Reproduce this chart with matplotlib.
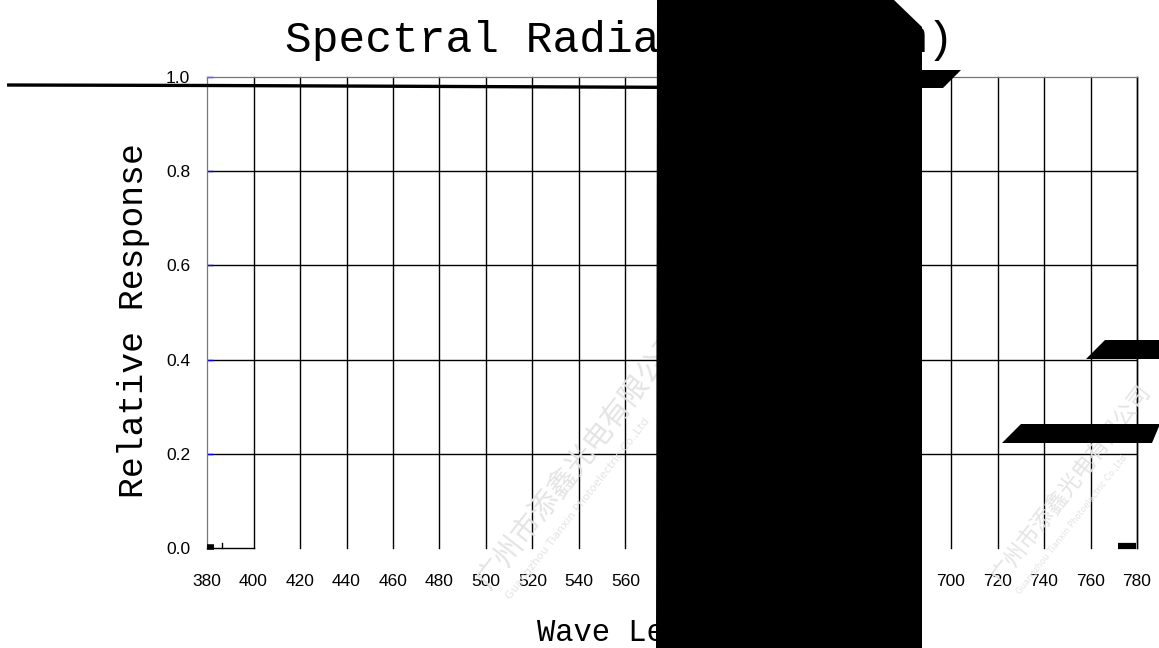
import matplotlib
matplotlib.use("Agg")
import matplotlib.pyplot as plt
from matplotlib.patches import Polygon

W, H = 1159, 648

# ---------------- data ----------------
wavelengths = list(range(380, 781, 20))
x_tick_labels = [str(w) for w in wavelengths]
y_ticks = [0.0, 0.2, 0.4, 0.6, 0.8, 1.0]
y_tick_labels = ["0.0", "0.2", "0.4", "0.6", "0.8", "1.0"]

# visible part of the response curve near the top
curve_wl = [294, 380, 480, 580, 610]
curve_val = [0.983, 0.982, 0.980, 0.978, 0.977]

# visible stubs of the curve near zero
start_wl = [380, 383]
start_val = [0.003, 0.003]
end_wl = [772, 779.5]
end_val = [0.004, 0.004]

title_text = "Spectral Radiation (λ/nm)"
xlabel_text = "Wave Length (nm)"
ylabel_text = "Relative Response"
watermark_cn = "广州市添鑫光电有限公司"
watermark_en = "Guangzhou Tianxin Photoelectric Co.,Ltd"

# ---------------- figure ----------------
fig = plt.figure(figsize=(W / 100, H / 100), dpi=100)
fig.patch.set_facecolor("white")


def px(x, y):
    return (x / W, 1 - y / H)


ax = fig.add_axes([207 / W, 1 - 548 / H, 930 / W, 471 / H])
ax.set_xlim(380, 780)
ax.set_ylim(0, 1)

# grid
for w in wavelengths[1:]:
    ax.axvline(w, color="black", lw=1.0, zorder=1, clip_on=False)
for v in y_ticks[1:-1]:
    ax.axhline(v, color="black", lw=1.0, zorder=1)
ax.plot([380, 400], [0, 0], color="black", lw=1.0, zorder=1, clip_on=False)

ax.spines["bottom"].set_visible(False)
ax.spines["top"].set_color("#777777")
ax.spines["top"].set_linewidth(0.9)
ax.spines["left"].set_color("#777777")
ax.spines["left"].set_linewidth(0.9)
ax.spines["right"].set_color("black")
ax.spines["right"].set_linewidth(1.0)

ax.set_xticks(wavelengths)
ax.set_xticklabels(x_tick_labels)
ax.set_yticks(y_ticks)
ax.set_yticklabels(y_tick_labels)
ax.tick_params(axis="x", length=0, pad=19, labelsize=12.5)
ax.tick_params(axis="y", direction="in", length=4, width=1, color="blue",
               pad=12, labelsize=12.5)
for lab in ax.get_xticklabels() + ax.get_yticklabels():
    lab.set_family(["Liberation Sans", "DejaVu Sans"])

# curve
ax.plot(curve_wl, curve_val, color="black", lw=2.4, zorder=5, clip_on=False,
        solid_capstyle="butt")
ax.plot(start_wl, start_val, color="black", lw=4, zorder=5, clip_on=False,
        solid_capstyle="butt")
ax.plot([386.5, 386.5], [0.0, 0.01], color="black", lw=1, zorder=5, clip_on=False)
ax.plot(end_wl, end_val, color="black", lw=4.5, zorder=5, clip_on=False,
        solid_capstyle="butt")

# texts
fig.text(285 / W, 1 - 52 / H, title_text, ha="left", va="baseline",
         fontsize=32, family=["Liberation Mono", "DejaVu Sans Mono"], zorder=3)
fig.text(537 / W, 1 - 641 / H, xlabel_text, ha="left", va="baseline",
         fontsize=22, family=["Liberation Mono", "DejaVu Sans Mono"], zorder=3)
fig.text(133 / W, 1 - 321 / H, ylabel_text, ha="center", va="center",
         rotation=90, fontsize=25, family=["Liberation Mono", "DejaVu Sans Mono"],
         zorder=3)

# faint watermarks
for (x, y, fs) in [(490, 590, 21), (1000, 585, 16)]:
    fig.text(x / W, 1 - y / H, watermark_cn, rotation=52,
             ha="left", va="baseline", rotation_mode="anchor", fontsize=fs,
             color="#e4e4e4", family=["Noto Sans CJK SC", "DejaVu Sans"], zorder=2)
    fig.text((x + 20) / W, 1 - (y + 10) / H, watermark_en,
             rotation=52, ha="left", va="baseline", rotation_mode="anchor",
             fontsize=fs * 0.38, color="#e4e4e4", family=["DejaVu Sans"], zorder=2)

# redaction overlay (pixel outline of the black blocks)
block = [(657, 0), (894, 0), (922, 27), (922, 70), (961, 70), (943, 88),
         (922, 88), (922, 648), (656, 648)]
bar_a = [(1105, 340), (1160, 340), (1160, 359), (1086, 359)]
bar_b = [(1021, 424), (1160, 424), (1152, 443), (1002, 443)]
for poly in (block, bar_a, bar_b):
    fig.patches.append(Polygon([px(x, y) for x, y in poly], closed=True,
                               transform=fig.transFigure, facecolor="black",
                               edgecolor="none", zorder=10))

fig.savefig("out.png", dpi=100)
